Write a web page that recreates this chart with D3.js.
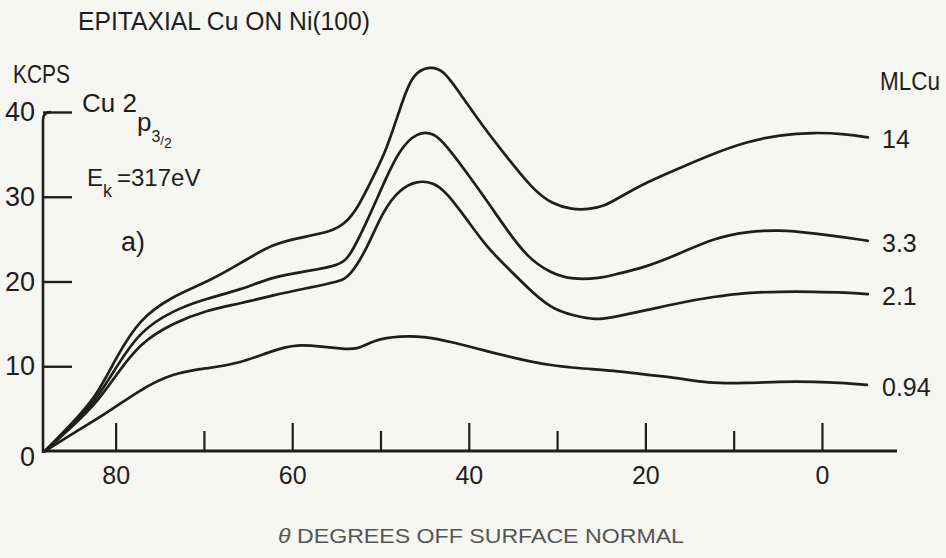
<!DOCTYPE html>
<html>
<head>
<meta charset="utf-8">
<script src="https://cdn.jsdelivr.net/npm/d3@7"></script>
<style>
  html, body { margin: 0; padding: 0; background: #f6f6f2; }
  svg { display: block; }
  text { font-family: "Liberation Sans", Arial, sans-serif; fill: #1e1e1e; }
</style>
</head>
<body>
<svg id="chart" width="946" height="558"></svg>
<script>
// ---------- data ----------
const majorTicks = [80, 60, 40, 20, 0];
const minorTicks = [70, 50, 30, 10];
const yTicks = [0, 10, 20, 30, 40];

const seriesNames = ["14", "3.3", "2.1", "0.94"];

const theta14 = [88, 85, 82.2, 79.9, 77.3, 73.5, 69.7, 65.9, 62.2, 58.4, 55.6, 54.0, 52.5, 51.0, 49.3, 47.5, 46.3, 44.4, 42.9, 41.0, 38.4, 35.7, 32.7, 30.5, 28.3, 26.5, 24.6, 23.0, 19.9, 16.1, 12.3, 8.5, 4.8, 1.0, -2.8, -5.2];
const kcps14  = [0, 3.2, 6.4, 11.1, 15.6, 18.3, 19.9, 22.1, 24.5, 25.3, 25.9, 26.8, 28.8, 32.0, 35.5, 41.4, 44.6, 45.4, 45.0, 42.2, 38.3, 34.7, 30.8, 29.1, 28.5, 28.5, 28.9, 29.9, 31.7, 33.4, 35.1, 36.5, 37.3, 37.6, 37.4, 37.0];

const theta33 = [88, 85, 82.2, 79.9, 77.3, 73.5, 69.7, 65.9, 62.1, 58.4, 54.6, 53.5, 51.6, 49.3, 47.8, 45.9, 44.0, 42.5, 40.2, 38.0, 35.7, 33.4, 30.8, 28.2, 25.1, 23.6, 19.9, 16.1, 12.3, 8.5, 4.8, 1.0, -2.8, -5.2];
const kcps33  = [0, 3.0, 6.0, 9.95, 14.1, 16.6, 18.0, 19.0, 20.6, 21.2, 21.9, 22.9, 26.9, 32.4, 35.6, 37.6, 37.6, 36.0, 32.8, 29.6, 26.1, 22.9, 21.0, 20.2, 20.4, 20.8, 21.7, 23.3, 25.1, 25.9, 26.1, 25.7, 25.2, 24.8];

const theta21 = [88, 85, 82.2, 79.9, 77.3, 73.5, 69.7, 65.9, 62.1, 58.4, 54.6, 53.5, 51.6, 49.7, 47.8, 45.9, 44.0, 42.5, 40.2, 38.0, 35.7, 32.7, 30.4, 27.0, 25.1, 23.6, 19.9, 16.1, 12.3, 8.5, 4.8, 1.0, -2.8, -5.2];
const kcps21  = [0, 2.8, 5.6, 9.0, 12.7, 15.1, 16.6, 17.4, 18.4, 19.2, 20.0, 20.6, 23.7, 28.4, 30.9, 31.9, 31.7, 30.5, 27.3, 24.1, 21.7, 18.6, 16.6, 15.7, 15.5, 15.8, 16.6, 17.5, 18.2, 18.7, 18.8, 18.8, 18.7, 18.5];

const theta094 = [88, 84.8, 81.0, 77.3, 73.5, 69.7, 65.9, 62.1, 59.5, 56.5, 54.6, 52.7, 50.8, 47.8, 44.8, 42.1, 38.4, 34.6, 30.8, 27.4, 23.6, 19.9, 16.1, 13.1, 8.5, 4.8, 1.0, -2.8, -5.1];
const kcps094  = [0, 2.1, 4.45, 7.2, 9.2, 9.75, 10.35, 11.9, 12.6, 12.3, 12.1, 11.9, 13.1, 13.6, 13.5, 12.9, 11.9, 10.9, 10.1, 9.75, 9.5, 9.0, 8.6, 8.0, 8.0, 8.2, 8.2, 8.0, 7.8];

const seriesTheta = [theta14, theta33, theta21, theta094];
const seriesKcps = [kcps14, kcps33, kcps21, kcps094];

// ---------- scales ----------
const svg = d3.select("#chart");
const INK = "#1e1e1e";
svg.append("rect").attr("width", 946).attr("height", 558).attr("fill", "#f6f6f2");

const x = d3.scaleLinear().domain([88, -8.5]).range([45, 897]);
const y = d3.scaleLinear().domain([0, 40]).range([451, 112]);

// ---------- axes ----------
const gx = svg.append("g").attr("transform", `translate(0,${y(0)})`);
gx.call(d3.axisBottom(x).tickValues(majorTicks).tickSize(-28).tickSizeOuter(0).tickPadding(15).tickFormat(d3.format("d")));
gx.select(".domain").remove();
gx.selectAll(".tick line").attr("stroke", INK).attr("stroke-width", 2.2);
gx.selectAll(".tick text").attr("font-size", 25).attr("fill", INK).attr("dy", "0.72em");

const gxm = svg.append("g").attr("transform", `translate(0,${y(0)})`);
gxm.call(d3.axisBottom(x).tickValues(minorTicks).tickSize(-20).tickSizeOuter(0).tickFormat(""));
gxm.select(".domain").remove();
gxm.selectAll(".tick line").attr("stroke", INK).attr("stroke-width", 2.2);

svg.append("line")
  .attr("x1", x.range()[0]).attr("x2", x.range()[1])
  .attr("y1", y(0)).attr("y2", y(0))
  .attr("stroke", INK).attr("stroke-width", 2.8);

const gy = svg.append("g").attr("transform", `translate(43,0)`);
gy.call(d3.axisLeft(y).tickValues(yTicks).tickSize(-29).tickSizeOuter(0).tickPadding(8).tickFormat(d3.format("d")));
gy.select(".domain").remove();
gy.selectAll(".tick line").attr("stroke", INK).attr("stroke-width", 2.4);
gy.selectAll(".tick text").attr("font-size", 27).attr("fill", INK);
gy.selectAll(".tick").filter(d => d === 0).select("line").remove();
gy.selectAll(".tick").filter(d => d === 0).select("text").attr("dy", "0.55em");

// vertical axis with hook at the top
svg.append("path")
  .attr("d", `M43,${y(0) + 2} L43,${y(40) + 8} Q43,${y(40)} 51,${y(40)}`)
  .attr("fill", "none").attr("stroke", INK).attr("stroke-width", 2.6);

// ---------- curves ----------
const line = d3.line()
  .x(d => x(d[0]))
  .y(d => y(d[1]))
  .curve(d3.curveBasis);

seriesNames.forEach((name, i) => {
  const pts = seriesTheta[i].map((t, j) => [t, seriesKcps[i][j]]);
  svg.append("path")
    .datum(pts)
    .attr("d", line)
    .attr("fill", "none")
    .attr("stroke", INK)
    .attr("stroke-width", 2.7)
    .attr("stroke-linecap", "round")
    .attr("stroke-linejoin", "round");
  const last = pts[pts.length - 1];
  svg.append("text")
    .attr("x", 882)
    .attr("y", y(last[1]) + 2)
    .attr("dy", "0.36em")
    .attr("font-size", 25)
    .text(name);
});

// ---------- texts ----------
svg.append("text").attr("x", 78).attr("y", 30).attr("font-size", 25)
  .attr("textLength", 292).attr("lengthAdjust", "spacingAndGlyphs")
  .text("EPITAXIAL Cu ON Ni(100)");

svg.append("text").attr("x", 13).attr("y", 83).attr("font-size", 25)
  .attr("textLength", 57).attr("lengthAdjust", "spacingAndGlyphs")
  .text("KCPS");

svg.append("text").attr("x", 880).attr("y", 90).attr("font-size", 25)
  .attr("textLength", 60).attr("lengthAdjust", "spacingAndGlyphs")
  .text("MLCu");

const cu = svg.append("text").attr("x", 82).attr("y", 112).attr("font-size", 26);
cu.append("tspan").text("Cu 2");
cu.append("tspan").attr("dy", 19).text("p");
cu.append("tspan").attr("dy", 11).attr("font-size", 16).text("3");
cu.append("tspan").attr("dy", 3).attr("font-size", 13).text("/");
cu.append("tspan").attr("dy", 3).attr("font-size", 14).text("2");

const ek = svg.append("text").attr("x", 87).attr("y", 186).attr("font-size", 24);
ek.append("tspan").text("E");
ek.append("tspan").attr("dy", 11).attr("font-size", 18).text("k");
ek.append("tspan").attr("x", 117).attr("dy", -11).text("=317eV");

svg.append("text").attr("x", 121).attr("y", 251).attr("font-size", 27).text("a)");

const xl = svg.append("text").attr("x", 278).attr("y", 543).attr("font-size", 20)
  .attr("textLength", 406).attr("lengthAdjust", "spacingAndGlyphs")
  .style("fill", "#555");
xl.append("tspan").attr("font-style", "italic").text("θ");
xl.append("tspan").text(" DEGREES OFF SURFACE NORMAL");
</script>
</body>
</html>
